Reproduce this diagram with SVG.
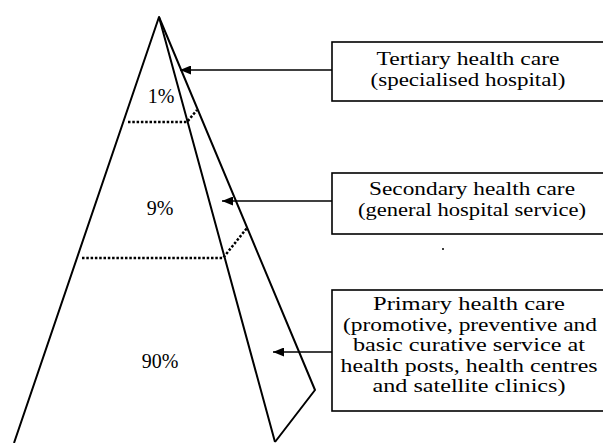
<svg xmlns="http://www.w3.org/2000/svg" width="603" height="443" viewBox="0 0 603 443">
<defs>
<style>
.ln{fill:none;stroke:#000;stroke-width:2;stroke-linejoin:round}
.dot{fill:none;stroke:#000;stroke-width:2.5;stroke-dasharray:2.5 1.8}
.box{fill:#fff;stroke:#000;stroke-width:1.6}
.arr{fill:none;stroke:#000;stroke-width:1.5}
.t{font-family:"Liberation Serif","Times New Roman",serif;font-size:18.5px;fill:#000;text-anchor:middle}
.p{font-family:"Liberation Serif","Times New Roman",serif;font-size:20px;fill:#000;text-anchor:middle}
</style>
<marker id="ah" viewBox="0 0 11 9" refX="11" refY="4.5" markerWidth="11" markerHeight="9" markerUnits="userSpaceOnUse" orient="auto">
<path d="M0,0 L11,4.5 L0,9 Z" fill="#000"/>
</marker>
</defs>
<rect width="603" height="443" fill="#fff"/>
<g id="pyramid">
<path class="ln" d="M14,443 L159,17 L275,442"/>
<path class="ln" d="M159,17 L315,390 L275,442"/>
<path class="dot" d="M128,122 L187,122 L197,110"/>
<path class="dot" d="M82,258 L223,258 L247,228"/>
<text class="p" x="161" y="103">1%</text>
<text class="p" x="160" y="215">9%</text>
<text class="p" x="160" y="368">90%</text>
</g>
<g id="tertiary">
<rect class="box" x="332" y="42" width="290" height="59"/>
<text class="t" x="468" y="65" textLength="183" lengthAdjust="spacingAndGlyphs">Tertiary health care</text>
<text class="t" x="468" y="86" textLength="195" lengthAdjust="spacingAndGlyphs">(specialised hospital)</text>
</g>
<g id="secondary">
<rect class="box" x="332" y="173" width="290" height="61"/>
<text class="t" x="472" y="195" textLength="206" lengthAdjust="spacingAndGlyphs">Secondary health care</text>
<text class="t" x="472" y="216" textLength="228" lengthAdjust="spacingAndGlyphs">(general hospital service)</text>
</g>
<g id="primary">
<rect class="box" x="332" y="290" width="290" height="121"/>
<text class="t" x="469" y="310" textLength="192" lengthAdjust="spacingAndGlyphs">Primary health care</text>
<text class="t" x="470" y="330.5" textLength="254" lengthAdjust="spacingAndGlyphs">(promotive, preventive and</text>
<text class="t" x="469" y="351" textLength="232" lengthAdjust="spacingAndGlyphs">basic curative service at</text>
<text class="t" x="469" y="371.5" textLength="257" lengthAdjust="spacingAndGlyphs">health posts, health centres</text>
<text class="t" x="469" y="392" textLength="193" lengthAdjust="spacingAndGlyphs">and satellite clinics)</text>
</g>
<g id="connectors">
<line class="arr" x1="332" y1="70" x2="180" y2="70" marker-end="url(#ah)"/>
<line class="arr" x1="332" y1="201" x2="222" y2="201" marker-end="url(#ah)"/>
<line class="arr" x1="332" y1="352" x2="273" y2="352" marker-end="url(#ah)"/>
</g>
<circle cx="443" cy="249" r="1" fill="#000"/>
</svg>
